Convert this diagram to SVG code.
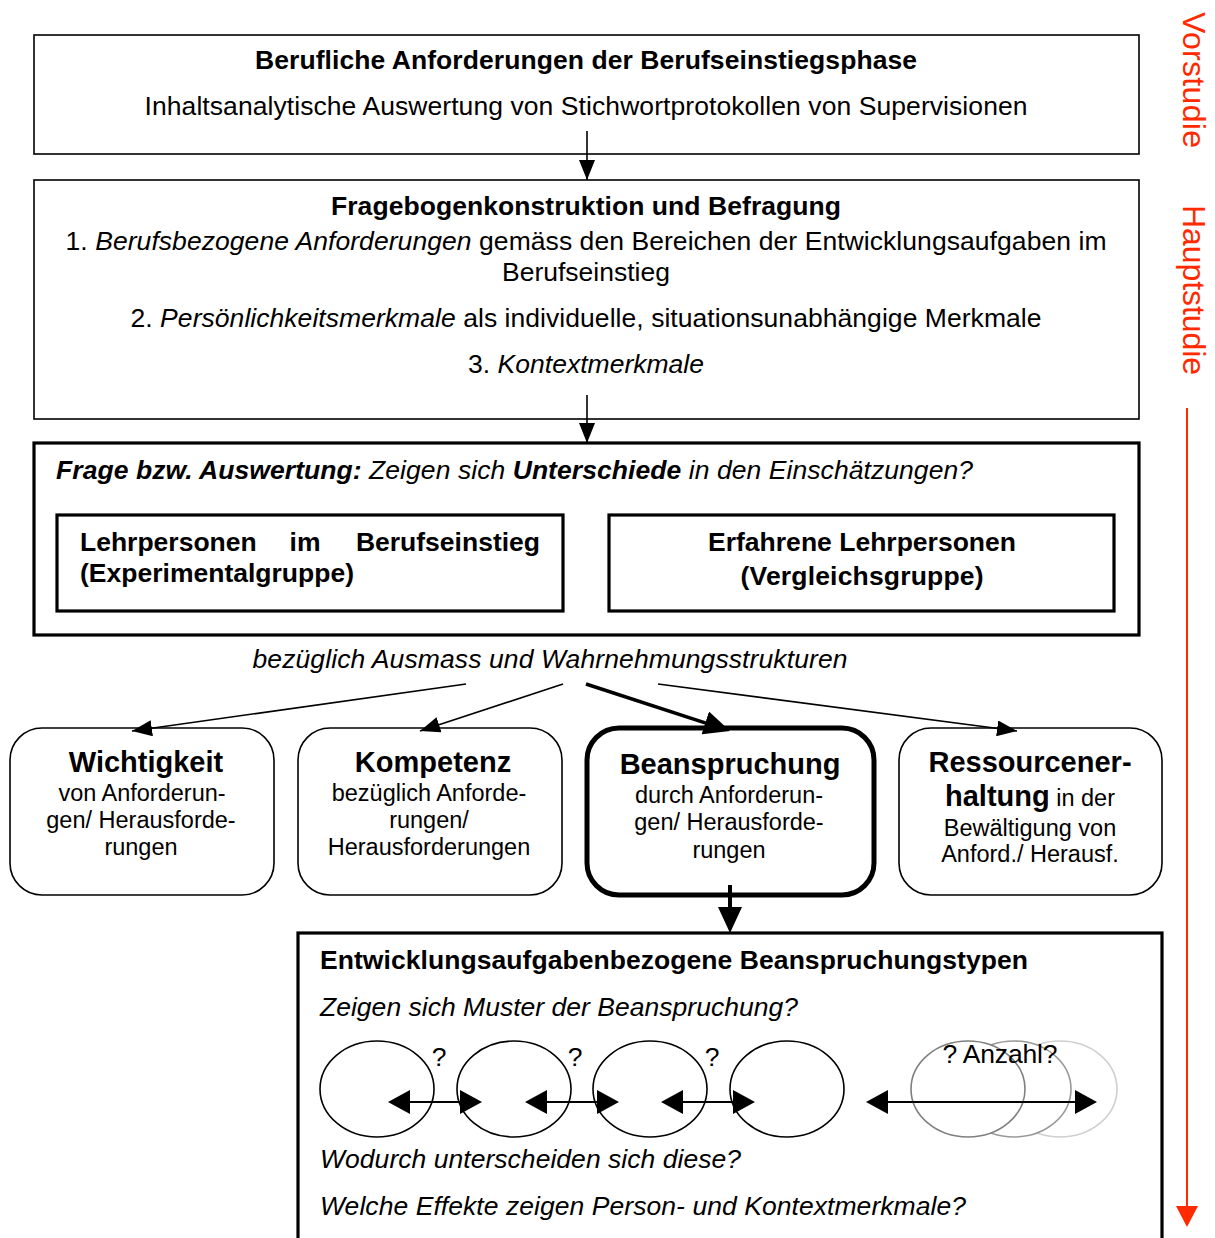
<svg xmlns="http://www.w3.org/2000/svg" width="1215" height="1238" viewBox="0 0 1215 1238">
<style>
text{font-family:"Liberation Sans",Arial,sans-serif;fill:#000}
.m{font-size:26.5px}
.b{font-weight:bold}
.i{font-style:italic}
.s{font-size:23.5px}
.h{font-size:29px;font-weight:bold}
.box{fill:#fff;stroke:#000;stroke-width:1.6}
.thick{fill:#fff;stroke:#000;stroke-width:3.2}
.rbox{fill:#fff;stroke:#000;stroke-width:1.6}
.con{stroke:#000;stroke-width:1.6;fill:none}
.red{fill:#ff2a00;font-size:32px}
</style>
<defs>
<marker id="ah" viewBox="0 0 20 16" refX="20" refY="8" markerWidth="20" markerHeight="16" markerUnits="userSpaceOnUse" orient="auto-start-reverse"><path d="M0,0 L20,8 L0,16 z" fill="#000"/></marker>
<marker id="ahb" viewBox="0 0 26 24" refX="20" refY="12" markerWidth="26" markerHeight="24" markerUnits="userSpaceOnUse" orient="auto"><path d="M0,0 L26,12 L0,24 z" fill="#000"/></marker>
<marker id="ahd" viewBox="0 0 22 24" refX="20" refY="12" markerWidth="22" markerHeight="24" markerUnits="userSpaceOnUse" orient="auto-start-reverse"><path d="M0,0 L22,12 L0,24 z" fill="#000"/></marker>
</defs>
<rect width="1215" height="1238" fill="#fff"/>

<g id="n-vorstudie">
<rect class="box" x="34" y="35" width="1105" height="119"/>
<text class="m b" x="586" y="69" text-anchor="middle" textLength="662">Berufliche Anforderungen der Berufseinstiegsphase</text>
<text class="m" x="586" y="115" text-anchor="middle" textLength="883">Inhaltsanalytische Auswertung von Stichwortprotokollen von Supervisionen</text>
</g>

<g id="n-fragebogen">
<rect class="box" x="34" y="180" width="1105" height="239"/>
<text class="m b" x="586" y="215" text-anchor="middle" textLength="510">Fragebogenkonstruktion und Befragung</text>
<text class="m" x="586" y="250" text-anchor="middle" textLength="1041">1. <tspan class="i">Berufsbezogene Anforderungen</tspan> gemäss den Bereichen der Entwicklungsaufgaben im</text>
<text class="m" x="586" y="281" text-anchor="middle" textLength="168">Berufseinstieg</text>
<text class="m" x="586" y="327" text-anchor="middle" textLength="911">2. <tspan class="i">Persönlichkeitsmerkmale</tspan> als individuelle, situationsunabhängige Merkmale</text>
<text class="m" x="586" y="373" text-anchor="middle" textLength="236">3. <tspan class="i">Kontextmerkmale</tspan></text>
</g>

<g id="n-frage">
<rect class="thick" x="34" y="443" width="1105" height="192"/>
<text class="m i" x="56" y="479" textLength="917"><tspan class="b">Frage bzw. Auswertung:</tspan> Zeigen sich <tspan class="b">Unterschiede</tspan> in den Einschätzungen?</text>
</g>

<g id="n-experimental">
<rect class="thick" x="57" y="515" width="506" height="96"/>
<text class="m b" x="80" y="551">Lehrpersonen</text>
<text class="m b" x="305" y="551" text-anchor="middle">im</text>
<text class="m b" x="540" y="551" text-anchor="end">Berufseinstieg</text>
<text class="m b" x="80" y="582" textLength="274">(Experimentalgruppe)</text>
</g>

<g id="n-vergleich">
<rect class="thick" x="609" y="515" width="505" height="96"/>
<text class="m b" x="862" y="551" text-anchor="middle" textLength="308">Erfahrene Lehrpersonen</text>
<text class="m b" x="862" y="585" text-anchor="middle" textLength="243">(Vergleichsgruppe)</text>
</g>

<g id="n-bezueglich">
<text class="m i" x="550" y="668" text-anchor="middle" textLength="595">bezüglich Ausmass und Wahrnehmungsstrukturen</text>
</g>

<g id="n-wichtigkeit">
<rect class="rbox" x="10" y="728" width="264" height="167" rx="32"/>
<text class="h" x="146" y="772" text-anchor="middle">Wichtigkeit</text>
<text class="s" x="142" y="801" text-anchor="middle">von Anforderun-</text>
<text class="s" x="141" y="828" text-anchor="middle">gen/ Herausforde-</text>
<text class="s" x="141" y="855" text-anchor="middle">rungen</text>
</g>

<g id="n-kompetenz">
<rect class="rbox" x="298" y="728" width="264" height="167" rx="32"/>
<text class="h" x="433" y="772" text-anchor="middle">Kompetenz</text>
<text class="s" x="429" y="801" text-anchor="middle">bezüglich Anforde-</text>
<text class="s" x="429" y="828" text-anchor="middle">rungen/</text>
<text class="s" x="429" y="855" text-anchor="middle">Herausforderungen</text>
</g>

<g id="n-beanspruchung">
<rect x="587" y="728" width="287" height="167" rx="32" fill="#fff" stroke="#000" stroke-width="5"/>
<text class="h" x="730" y="774" text-anchor="middle">Beanspruchung</text>
<text class="s" x="729" y="803" text-anchor="middle">durch Anforderun-</text>
<text class="s" x="729" y="830" text-anchor="middle">gen/ Herausforde-</text>
<text class="s" x="729" y="858" text-anchor="middle">rungen</text>
</g>

<g id="n-ressourcen">
<rect class="rbox" x="899" y="728" width="263" height="167" rx="32"/>
<text class="h" x="1030" y="772" text-anchor="middle">Ressourcener-</text>
<text x="1030" y="806" text-anchor="middle"><tspan class="h">haltung</tspan><tspan class="s"> in der</tspan></text>
<text class="s" x="1030" y="836" text-anchor="middle">Bewältigung von</text>
<text class="s" x="1030" y="862" text-anchor="middle">Anford./ Herausf.</text>
</g>

<g id="n-typen">
<rect class="thick" x="298" y="933" width="864" height="320"/>
<text class="m b" x="320" y="969" textLength="708">Entwicklungsaufgabenbezogene Beanspruchungstypen</text>
<text class="m i" x="320" y="1016" textLength="478">Zeigen sich Muster der Beanspruchung?</text>
<g fill="#fff" stroke-width="1.6">
<ellipse cx="377" cy="1089" rx="57" ry="48" stroke="#000"/>
<ellipse cx="514" cy="1089" rx="57" ry="48" stroke="#000"/>
<ellipse cx="650" cy="1089" rx="57" ry="48" stroke="#000"/>
<ellipse cx="787" cy="1089" rx="57" ry="48" stroke="#000"/>
<ellipse cx="1060" cy="1089" rx="57" ry="48" stroke="#cfcfcf"/>
<ellipse cx="1014" cy="1089" rx="57" ry="48" stroke="#9a9a9a"/>
<ellipse cx="968" cy="1089" rx="57" ry="48" stroke="#7f7f7f"/>
</g>
<text class="m" x="439" y="1066" text-anchor="middle">?</text>
<text class="m" x="575" y="1066" text-anchor="middle">?</text>
<text class="m" x="712" y="1066" text-anchor="middle">?</text>
<text class="m" x="1000" y="1063" text-anchor="middle" textLength="115">? Anzahl?</text>
<text class="m i" x="320" y="1168" textLength="421">Wodurch unterscheiden sich diese?</text>
<text class="m i" x="320" y="1215" textLength="646">Welche Effekte zeigen Person- und Kontextmerkmale?</text>
</g>

<g id="n-phasen">
<text class="red" transform="translate(1183,12) rotate(90)" textLength="136">Vorstudie</text>
<text class="red" transform="translate(1183,205) rotate(90)" textLength="170">Hauptstudie</text>
<line x1="1187" y1="408" x2="1187" y2="1210" stroke="#ff2a00" stroke-width="2"/>
<polygon points="1176,1206 1198,1206 1187,1227" fill="#ff2a00"/>
</g>

<g id="connectors">
<line class="con" x1="587" y1="131" x2="587" y2="180" marker-end="url(#ah)"/>
<line class="con" x1="587" y1="395" x2="587" y2="443" marker-end="url(#ah)"/>
<line class="con" x1="466" y1="684" x2="132" y2="731" marker-end="url(#ah)"/>
<line class="con" x1="563" y1="684" x2="420" y2="731" marker-end="url(#ah)"/>
<line x1="586" y1="684" x2="724.3" y2="729.1" stroke="#000" stroke-width="3.5" marker-end="url(#ahb)"/>
<line class="con" x1="658" y1="684" x2="1017" y2="731" marker-end="url(#ah)"/>
<line x1="730" y1="885" x2="730" y2="927" stroke="#000" stroke-width="4" marker-end="url(#ahb)"/>
<g stroke="#000" stroke-width="2">
<line x1="390" y1="1102" x2="480" y2="1102" marker-start="url(#ahd)" marker-end="url(#ahd)"/>
<line x1="527" y1="1102" x2="617" y2="1102" marker-start="url(#ahd)" marker-end="url(#ahd)"/>
<line x1="663" y1="1102" x2="753" y2="1102" marker-start="url(#ahd)" marker-end="url(#ahd)"/>
<line x1="868" y1="1102" x2="1095" y2="1102" marker-start="url(#ahd)" marker-end="url(#ahd)"/>
</g>
</g>
</svg>
